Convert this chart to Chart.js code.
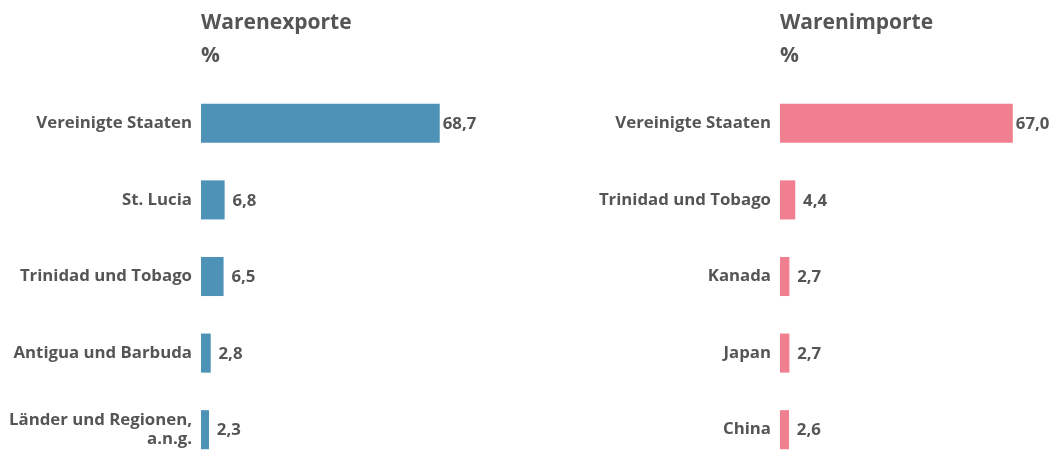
<!DOCTYPE html>
<html>
<head>
<meta charset="utf-8">
<script src="https://cdn.jsdelivr.net/npm/chart.js@4.4.1/dist/chart.umd.min.js"></script>
<style>
  html, body { margin: 0; padding: 0; background: #fff; width: 1058px; height: 450px; overflow: hidden; }
  .panel { position: absolute; top: 0; width: 479px; height: 470px; }
  .panel canvas { position: absolute; left: 0; top: 0; }
  .title { position: absolute; left: 201px; font-family: "Open Sans", sans-serif; font-weight: 700; color: #555; font-size: 21px; line-height: 1; white-space: nowrap; }
  .t1 { top: 11px; }
  .t2 { top: 44px; }
</style>
</head>
<body>
<script>
// Data
const exportCategories = ["Vereinigte Staaten", "St. Lucia", "Trinidad und Tobago", "Antigua und Barbuda", ["Länder und Regionen,", "a.n.g."]];
const exportValues = [68.7, 6.8, 6.5, 2.8, 2.3];
const importCategories = ["Vereinigte Staaten", "Trinidad und Tobago", "Kanada", "Japan", "China"];
const importValues = [67.0, 4.4, 2.7, 2.7, 2.6];
const exportTitle = "Warenexporte";
const importTitle = "Warenimporte";
const unitLabel = "%";

const TEXT = "#555";
const FONT = "'Open Sans', sans-serif";
const LABEL_SIZE = 16.8;

const valueLabels = {
  id: 'valueLabels',
  afterDatasetsDraw(chart) {
    const ctx = chart.ctx;
    ctx.save();
    ctx.font = "bold " + LABEL_SIZE + "px " + FONT;
    ctx.fillStyle = TEXT;
    ctx.textAlign = 'center';
    ctx.textBaseline = 'middle';
    const boxW = ctx.measureText("00,0").width;
    const meta = chart.getDatasetMeta(0);
    const data = chart.data.datasets[0].data;
    meta.data.forEach((bar, i) => {
      const txt = data[i].toFixed(1).replace('.', ',');
      ctx.fillText(txt, bar.x + 3 + boxW / 2, bar.y + 1);
    });
    ctx.restore();
  }
};

function makePanel(left, title, cats, vals, color) {
  const div = document.createElement('div');
  div.className = 'panel';
  div.style.left = left + 'px';
  const t1 = document.createElement('div');
  t1.className = 'title t1'; t1.textContent = title;
  const t2 = document.createElement('div');
  t2.className = 'title t2'; t2.textContent = unitLabel;
  const cv = document.createElement('canvas');
  cv.width = 479; cv.height = 470;
  cv.style.width = '479px'; cv.style.height = '470px';
  div.appendChild(cv);
  div.appendChild(t1);
  div.appendChild(t2);
  document.body.appendChild(div);
  new Chart(cv, {
    type: 'bar',
    data: {
      labels: cats,
      datasets: [{ data: vals, backgroundColor: color, barPercentage: 0.51, categoryPercentage: 1 }]
    },
    options: {
      indexAxis: 'y',
      responsive: false,
      maintainAspectRatio: false,
      devicePixelRatio: 1,
      animation: false,
      layout: { padding: { top: 85, bottom: 2, left: 0, right: 0 } },
      plugins: { legend: { display: false }, tooltip: { enabled: false } },
      scales: {
        x: { display: false, min: 0, max: 80 },
        y: {
          grid: { display: false, drawTicks: false },
          border: { display: false },
          ticks: { color: TEXT, padding: 9, font: { family: FONT, size: LABEL_SIZE, weight: 'bold', lineHeight: 1.15 } },
          afterFit(scale) { scale.width = 201; scale.paddingTop = 0; scale.paddingBottom = 0; }
        }
      }
    },
    plugins: [valueLabels]
  });
}

makePanel(0, exportTitle, exportCategories, exportValues, "#4e93b7");
makePanel(579, importTitle, importCategories, importValues, "#f0808f");
</script>
</body>
</html>
